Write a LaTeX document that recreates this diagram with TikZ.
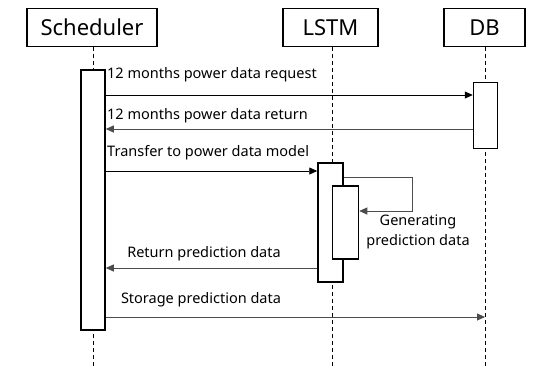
\documentclass[tikz,border=0pt]{standalone}
\usepackage{fontspec}
\setmainfont{Noto Sans}
\usetikzlibrary{arrows.meta}
\begin{document}
\begin{tikzpicture}[x=1pt,y=-1pt,
  head/.style={draw,line width=1.5pt,fill=white,font=\fontsize{22}{24}\selectfont,inner sep=0pt},
  act/.style={draw,line width=1.5pt,fill=white},
  life/.style={draw,line width=0.7pt,dash pattern=on 4pt off 3pt},
  msg/.style={draw,line width=0.8pt,-{Triangle[length=8pt,width=7pt]}},
  lbl/.style={font=\fontsize{14.5}{20}\selectfont,inner sep=1pt}]
\useasboundingbox (0,0) rectangle (533,368);
% headers
\node[head,minimum width=130pt,minimum height=38pt] (sch) at (92,27.5) {Scheduler};
\node[head,minimum width=95pt,minimum height=38pt] (lstm) at (330.5,27.5) {LSTM};
\node[head,minimum width=81pt,minimum height=38pt] (db) at (484.5,27.5) {DB};
% lifeline ends
\coordinate (schE) at (93,368);
\coordinate (lstmE) at (332,368);
\coordinate (dbE) at (485,368);
\draw[life] (sch.south) ++(1,0) -- (schE);
\draw[life] (lstm.south) ++(1.5,0) -- (lstmE);
\draw[life] (db.south) ++(0.5,0) -- (dbE);
% activations
\node[act,minimum width=24pt,minimum height=260pt,inner sep=0pt] (schA) at (93,200) {};
\node[act,minimum width=24pt,minimum height=66pt,inner sep=0pt] (dbA) at (485.5,115.5) {};
\node[act,minimum width=25pt,minimum height=119pt,inner sep=0pt] (lA) at (330.5,222.5) {};
\node[act,minimum width=26pt,minimum height=73pt,inner sep=0pt] (lB) at (345.5,222.5) {};
% messages
\draw[msg] (schA.east |- 0,95) -- (dbA.west |- 0,95);
\node[lbl,anchor=west] (m1) at (106,75) {12 months power data request};
\draw[msg,draw=black!70] (dbA.west |- 0,129) -- (schA.east |- 0,129);
\node[lbl,anchor=west] (m2) at (106,116) {12 months power data return};
\draw[msg] (schA.east |- 0,171) -- (lA.west |- 0,171);
\node[lbl,anchor=west] (m3) at (106,153) {Transfer to power data model};
\coordinate (s1) at (412,177);
\coordinate (s2) at (412,211);
\draw[msg,draw=black!70] (lA.east |- 0,177) -- (s1) -- (s2) -- (lB.east |- 0,211);
\node[lbl,align=center] (m4) at (418,232) {Generating\\prediction data};
\draw[msg,draw=black!70] (lA.west |- 0,268) -- (schA.east |- 0,268);
\node[lbl] (m5) at (204,254) {Return prediction data};
\draw[msg,draw=black!70] (schA.east |- 0,317) -- (dbE |- 0,317);
\node[lbl] (m6) at (201,300) {Storage prediction data};
\end{tikzpicture}
\end{document}
